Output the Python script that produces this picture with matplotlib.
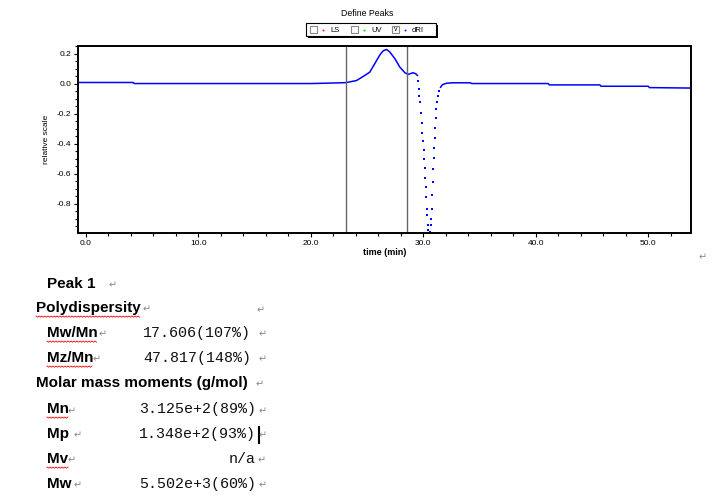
import numpy as np
import matplotlib
matplotlib.use("Agg")
import matplotlib.pyplot as plt
from matplotlib.patches import Rectangle
from matplotlib.lines import Line2D
from matplotlib.ticker import MultipleLocator, FormatStrFormatter

# chromatogram (dRI trace)
base_time = [-0.6, 4.2, 4.3, 12.0, 20.0, 21.7, 23.1, 24.06, 24.65, 25.24, 25.69, 26.13,
             26.43, 26.73, 27.02, 27.47, 27.91, 28.36, 28.65, 29.09, 29.33, 29.48]
base_value = [0.007, 0.007, 0.0, 0.0, 0.0, 0.003, 0.006, 0.02, 0.047, 0.076, 0.133, 0.19,
              0.218, 0.227, 0.21, 0.166, 0.11, 0.072, 0.061, 0.072, 0.065, 0.054]
drop_time = [29.54, 29.6, 29.66, 29.72, 29.78, 29.84, 29.89, 29.96, 30.02, 30.04, 30.11,
             30.16, 30.22, 30.25, 30.31, 30.34, 30.4, 30.46, 30.58,
             30.64, 30.69, 30.76, 30.78, 30.84, 30.87, 30.93, 30.96, 31.02, 31.05, 31.11,
             31.17, 31.23, 31.32, 31.4]
drop_value = [0.016, -0.036, -0.081, -0.126, -0.193, -0.26, -0.328, -0.384, -0.44, -0.505,
              -0.563, -0.63, -0.687, -0.754, -0.833, -0.876, -0.943, -0.975, -0.99,
              -0.943, -0.9, -0.833, -0.74, -0.653, -0.572, -0.496, -0.429, -0.362, -0.294,
              -0.227, -0.17, -0.126, -0.081, -0.047]
tail_time = [31.53, 31.71, 32.06, 32.6, 34.2, 34.3, 41.1, 41.2, 45.7, 45.8, 50.0, 50.1, 53.8]
tail_value = [-0.025, -0.007, 0.002, 0.005, 0.005, 0.0, 0.0, -0.009, -0.009, -0.018, -0.018,
              -0.027, -0.03]
peak_limits = [23.1, 28.55]

legend_names = ["LS", "UV", "dRI"]
legend_colors = ["red", "#00c000", "blue"]
legend_checked = [False, False, True]

poly_labels = ["Mw/Mn", "Mz/Mn"]
poly_values = ["17.606(107%)", "47.817(148%)"]
moment_labels = ["Mn", "Mp", "Mv", "Mw"]
moment_values = ["3.125e+2(89%)", "1.348e+2(93%)", "n/a", "5.502e+3(60%)"]
misspelled = ["Polydispersity", "Mw/Mn", "Mz/Mn", "Mn", "Mv"]

W, H = 725, 500


def fx(px):
    return px / W


def fy(py):
    return 1 - py / H


fig = plt.figure(figsize=(7.25, 5), dpi=100)
fig.patch.set_facecolor("white")

# chart
ax = fig.add_axes([fx(78), fy(233), 613 / W, 187 / H])
ax.plot(base_time, base_value, color="blue", lw=1.1)
ax.plot(drop_time, drop_value, ls="none", marker="s", ms=1.5, mew=0, color="blue")
ax.plot(tail_time, tail_value, color="blue", lw=1.1)
for t in peak_limits:
    ax.axvline(t, color="#666666", lw=1)
ax.set_xlim(-0.7, 53.8)
ax.set_ylim(-0.995, 0.25)
ax.xaxis.set_major_locator(MultipleLocator(10))
ax.xaxis.set_minor_locator(MultipleLocator(2))
ax.yaxis.set_major_locator(MultipleLocator(0.2))
ax.yaxis.set_minor_locator(MultipleLocator(0.05))
ax.xaxis.set_major_formatter(FormatStrFormatter("%.1f"))
ax.yaxis.set_major_formatter(FormatStrFormatter("%.1f"))
ax.tick_params(which="major", length=3, width=0.8, labelsize=6, pad=2)
ax.tick_params(which="minor", length=2, width=0.8)
for lab in ax.get_xticklabels() + ax.get_yticklabels():
    lab.set_family("Liberation Sans")
for sp in ax.spines.values():
    sp.set_linewidth(1.4)
ax.set_xlabel("time (min)", fontsize=6.5, weight="bold", family="Liberation Sans", labelpad=1)
ax.set_ylabel("relative scale", fontsize=6, family="Liberation Sans", labelpad=5)

# legend header
fig.text(fx(367), fy(14), "Define Peaks", ha="center", va="center", fontsize=6.3,
         family="Liberation Sans")
fig.add_artist(Rectangle((fx(308), fy(38)), 130 / W, 13 / H, transform=fig.transFigure,
                         facecolor="black", edgecolor="black", lw=0))
fig.add_artist(Rectangle((fx(306), fy(36)), 130 / W, 13 / H, transform=fig.transFigure,
                         facecolor="white", edgecolor="black", lw=0.8))
for i, (name, col, chk) in enumerate(zip(legend_names, legend_colors, legend_checked)):
    x0 = 310 + 41 * i
    fig.add_artist(Rectangle((fx(x0), fy(33)), 7 / W, 7 / H, transform=fig.transFigure,
                             facecolor="white", edgecolor="#888888", lw=0.8))
    if chk:
        fig.text(fx(x0 + 3.5), fy(29.5), "v", ha="center", va="center", fontsize=5,
                 family="Liberation Sans")
    fig.add_artist(Line2D([fx(x0 + 13)], [fy(30)], transform=fig.transFigure, marker="s",
                          ms=1.2, mew=0, color=col))
    fig.text(fx(x0 + 20), fy(30), name, ha="left", va="center", fontsize=5.5,
             family="Liberation Sans")

# results text
bold = dict(fontsize=11, weight="bold", family="Liberation Sans", va="center")
mono = dict(fontsize=10.8, family="Liberation Mono", va="center", color="#111111")
texts = {}
texts["Peak 1"] = fig.text(fx(47), fy(284), "Peak 1", **bold)
texts["Polydispersity"] = fig.text(fx(36), fy(308), "Polydispersity", **bold)
for i, (lab, val) in enumerate(zip(poly_labels, poly_values)):
    y = 333 + 25 * i
    texts[lab] = fig.text(fx(47), fy(y), lab, **bold)
    fig.text(fx(143), fy(y), val, ha="left", **mono)
texts["moments"] = fig.text(fx(36), fy(383), "Molar mass moments (g/mol)", **bold)
for i, (lab, val) in enumerate(zip(moment_labels, moment_values)):
    y = 409 + 25 * i
    texts[lab] = fig.text(fx(47), fy(y), lab, **bold)
    fig.text(fx(256), fy(y), val, ha="right", **mono)

# paragraph marks
marks = [(113, 285), (147, 309), (261, 310), (103, 334), (263, 334), (97, 359), (263, 359),
         (260, 384), (72, 411), (263, 411), (78, 435), (263, 435), (72, 460), (262, 460),
         (78, 485), (263, 485), (703, 257)]
for mx, my in marks:
    fig.text(fx(mx), fy(my), "\u21b5", ha="center", va="center", fontsize=7,
             color="#888888", family="DejaVu Sans")
# text cursor
fig.add_artist(Line2D([fx(259), fx(259)], [fy(427), fy(443)], transform=fig.transFigure,
                      color="black", lw=1.5))

# red spell-check squiggles
renderer = fig.canvas.get_renderer()
for key in misspelled:
    bb = texts[key].get_window_extent(renderer)
    xs = np.arange(bb.x0, bb.x1, 1.5)
    ys = bb.y0 - 1 - 1.2 * (np.arange(len(xs)) % 2)
    fig.add_artist(Line2D(xs / W, ys / H, transform=fig.transFigure, color="red", lw=0.6))

fig.savefig("out.png", dpi=100)
